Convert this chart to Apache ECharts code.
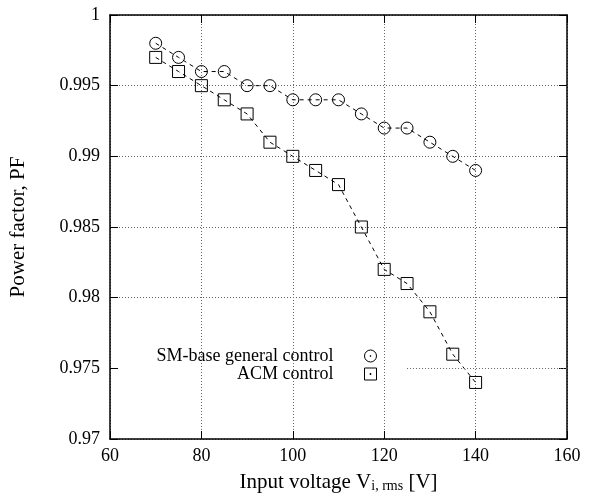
<!DOCTYPE html>
<html><head><meta charset="utf-8">
<script src="https://cdn.jsdelivr.net/npm/echarts@6/dist/echarts.min.js"></script>
<style>html,body{margin:0;padding:0;background:#fff}#c{width:592px;height:498px}</style>
</head><body><div id="c"></div>
<script>
var voltage = [70, 75, 80, 85, 90, 95, 100, 105, 110, 115, 120, 125, 130, 135, 140];
var smBase = [0.998, 0.997, 0.996, 0.996, 0.995, 0.995, 0.994, 0.994, 0.994, 0.993, 0.992, 0.992, 0.991, 0.990, 0.989];
var acm = [0.997, 0.996, 0.995, 0.994, 0.993, 0.991, 0.990, 0.989, 0.988, 0.985, 0.982, 0.981, 0.979, 0.976, 0.974];
var seriesNames = ['SM-base general control', 'ACM control'];

var FONT = 'Liberation Serif';
var chart = echarts.init(document.getElementById('c'), null, {renderer: 'canvas'});
function pairs(xs, ys) { return xs.map(function (x, i) { return [x, ys[i]]; }); }
var circIcon = 'path://M10,5A5,5 0 1,1 0,5A5,5 0 1,1 10,5Z M5.4,5A0.4,0.4 0 1,1 4.6,5A0.4,0.4 0 1,1 5.4,5Z';
var sqIcon = 'path://M0,0L10,0L10,10L0,10Z M4.6,4.6L5.4,4.6L5.4,5.4L4.6,5.4Z';
var gridCol = '#666';
var axisCommon = {
  axisLine: {lineStyle: {color: '#000', width: 1.5}},
  axisTick: {inside: true, length: 8, lineStyle: {color: '#000', width: 1}},
  axisLabel: {color: '#000', fontFamily: FONT, fontSize: 18},
};
var legendItemStyle = {color: 'transparent', borderColor: '#000', borderWidth: 1};
var legendText = {fontFamily: FONT, fontSize: 18, color: '#000', padding: [0, 26, 0, 0]};
var option = {
  animation: false,
  backgroundColor: '#fff',
  grid: {left: 110, right: 25, top: 15, bottom: 57, containLabel: false},
  legend: [
    {orient: 'vertical', align: 'right', right: 215, top: 347, padding: 0, itemWidth: 12, itemHeight: 12,
     textStyle: legendText,
     data: [{name: seriesNames[0], icon: circIcon, itemStyle: legendItemStyle}]},
    {orient: 'vertical', align: 'right', right: 215, top: 365, padding: 0, itemWidth: 12, itemHeight: 12,
     textStyle: legendText,
     data: [{name: seriesNames[1], icon: sqIcon, itemStyle: legendItemStyle}]}
  ],
  xAxis: [
    Object.assign({}, axisCommon, {
      type: 'value', min: 60, max: 160, interval: 20, position: 'bottom',
      axisLabel: Object.assign({}, axisCommon.axisLabel, {margin: 8}),
      splitLine: {show: true, lineStyle: {color: gridCol, type: [1, 2], width: 1}},
      name: 'Input voltage V{sub|i, rms} [V]', nameLocation: 'middle', nameGap: 32,
      nameTextStyle: {fontFamily: FONT, fontSize: 21, color: '#000', verticalAlign: 'top',
        rich: {sub: {fontFamily: FONT, fontSize: 14, color: '#000', verticalAlign: 'bottom', padding: [8, 0, 0, 0]}}}
    }),
    Object.assign({}, axisCommon, {
      type: 'value', min: 60, max: 160, interval: 20, position: 'top',
      axisLabel: {show: false}, splitLine: {show: false}
    })
  ],
  yAxis: [
    Object.assign({}, axisCommon, {
      type: 'value', min: 0.97, max: 1, interval: 0.005, position: 'left',
      axisLabel: Object.assign({}, axisCommon.axisLabel, {margin: 10}),
      splitLine: {show: true, lineStyle: {color: [gridCol, 'transparent', gridCol, gridCol, gridCol, gridCol, gridCol], type: [1, 2], width: 1}},
      name: 'Power factor, PF', nameLocation: 'middle', nameGap: 81,
      nameTextStyle: {fontFamily: FONT, fontSize: 21, color: '#000'}
    }),
    Object.assign({}, axisCommon, {
      type: 'value', min: 0.97, max: 1, interval: 0.005, position: 'right',
      axisLabel: {show: false}, splitLine: {show: false}
    })
  ],
  series: [
    {name: seriesNames[0], type: 'line', data: pairs(voltage, smBase),
     symbol: 'circle', symbolSize: 12, showAllSymbol: true,
     itemStyle: {color: 'transparent', borderColor: '#000', borderWidth: 1},
     lineStyle: {color: '#000', width: 1, type: [4, 4]}},
    {name: seriesNames[1], type: 'line', data: pairs(voltage, acm),
     symbol: 'rect', symbolSize: 12, showAllSymbol: true,
     itemStyle: {color: 'transparent', borderColor: '#000', borderWidth: 1},
     lineStyle: {color: '#000', width: 1, type: [4, 4]},
     markLine: {silent: true, symbol: 'none', label: {show: false},
       lineStyle: {color: gridCol, type: [1, 2], width: 1},
       data: [[{coord: [125, 0.975]}, {coord: [160, 0.975]}]]}}
  ]
};
chart.setOption(option);
</script></body></html>
